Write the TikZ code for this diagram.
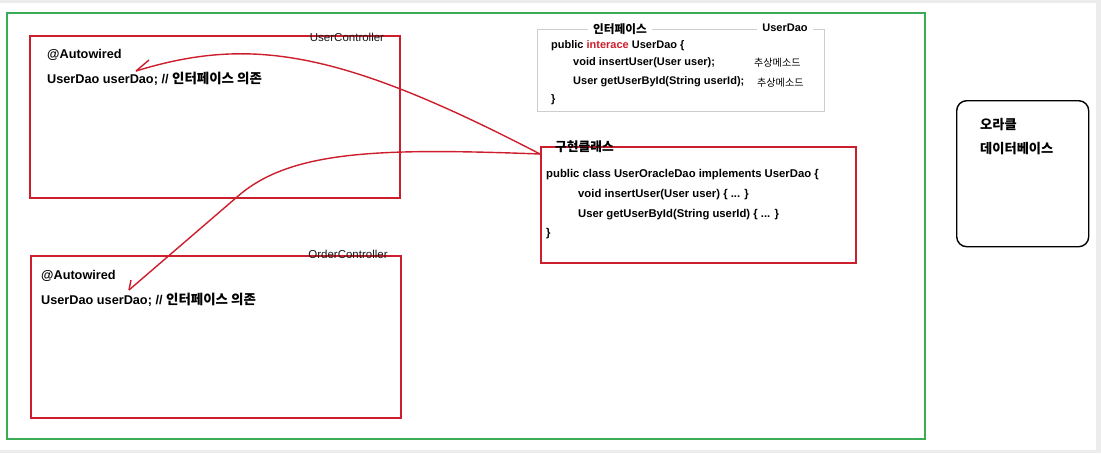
\documentclass[tikz,border=0pt]{standalone}
\usepackage{fontspec}
\setmainfont{Liberation Sans}
\newfontfamily\kofont{Noto Sans CJK KR}[Scale=1.06]
\newcommand{\ko}[1]{{\kofont #1}}
\definecolor{pagegray}{RGB}{236,236,236}
\definecolor{boxred}{RGB}{204,30,44}
\definecolor{framegreen}{RGB}{60,172,84}
\definecolor{ifgray}{RGB}{205,205,205}
\begin{document}
\begin{tikzpicture}[x=1pt,y=-1pt,
  redbox/.style={draw=boxred,line width=1.8pt,inner sep=0pt,anchor=north west},
  code/.style={anchor=west,inner sep=0pt,font=\bfseries\fontsize{12.7}{14}\selectfont},
  smallcode/.style={anchor=west,inner sep=0pt,font=\bfseries\fontsize{11}{13}\selectfont},
  implcode/.style={anchor=west,inner sep=0pt,font=\bfseries\fontsize{11.3}{13}\selectfont},
  tag/.style={inner sep=0pt,font=\fontsize{11.5}{13}\selectfont,text=black!90},
  arrowline/.style={draw=boxred,line width=1.4pt}]
\useasboundingbox (0,0) rectangle (1101,453);
\fill[pagegray] (0,0) rectangle (1101,453);
\fill[white] (0,3) rectangle (1096,450);

% outer green frame
\node[draw=framegreen,line width=1.8pt,inner sep=0pt,anchor=north west,
  minimum width=918pt,minimum height=426pt] (frame) at (6,12) {};

% UserController
\node[redbox,minimum width=370pt,minimum height=162pt] (uc) at (29,35) {};
\node[tag] (uclabel) at (347,37) {UserController};
\node[code] (uc1) at (47,55) {@Autowired};
\node[code] (uc2) at (47,79) {UserDao userDao; // \ko{인터페이스 의존}};

% OrderController
\node[redbox,minimum width=370pt,minimum height=162pt] (oc) at (30,255) {};
\node[tag] (oclabel) at (348,254) {OrderController};
\node[code] (oc1) at (41,276) {@Autowired};
\node[code] (oc2) at (41,300) {UserDao userDao; // \ko{인터페이스 의존}};

% Interface box
\node[draw=ifgray,line width=0.8pt,inner sep=0pt,anchor=north west,
  minimum width=287pt,minimum height=82pt] (iface) at (537,29) {};
\node[fill=white,inner xsep=5pt,inner ysep=1pt,font=\bfseries\fontsize{11}{13}\selectfont] (iftitle) at (620,29) {\ko{인터페이스}};
\node[fill=white,inner xsep=5pt,inner ysep=1pt,font=\bfseries\fontsize{11}{13}\selectfont] (ifname) at (785,28) {UserDao};
\node[smallcode] (if1) at (551,46) {public \textcolor{boxred}{interace} UserDao \{};
\node[smallcode] (if2) at (573,63) {void insertUser(User user);};
\node[smallcode] (if3) at (573,82) {User getUserById(String userId);};
\node[smallcode] (if4) at (551,100) {\}};
\node[anchor=west,inner sep=0pt,font=\fontsize{9.5}{11}\selectfont] (abs1) at (754,63) {\ko{추상메소드}};
\node[anchor=west,inner sep=0pt,font=\fontsize{9.5}{11}\selectfont] (abs2) at (757,83) {\ko{추상메소드}};

% Implementation class box
\node[redbox,minimum width=315pt,minimum height=116pt] (impl) at (540,146) {};
\node[anchor=west,inner sep=0pt,font=\bfseries\fontsize{12}{14}\selectfont] (impltitle) at (555,147) {\ko{구현클래스}};
\node[implcode] (im1) at (546,175) {public class UserOracleDao implements UserDao \{};
\node[implcode] (im2) at (578,195) {void insertUser(User user) \{ ... \}};
\node[implcode] (im3) at (578,215) {User getUserById(String userId) \{ ... \}};
\node[implcode] (im4) at (546,234) {\}};

% Oracle DB
\node[draw=black,line width=1.4pt,rounded corners=10pt,inner sep=0pt,anchor=north west,
  minimum width=132pt,minimum height=146pt] (db) at (956,100) {};
\node[anchor=west,inner sep=0pt,font=\bfseries\fontsize{12.5}{14}\selectfont] (db1) at (980,125) {\ko{오라클}};
\node[anchor=west,inner sep=0pt,font=\bfseries\fontsize{12.5}{14}\selectfont] (db2) at (980,149) {\ko{데이터베이스}};

% connectors
\coordinate (start) at ([yshift=-8pt]impl.north west);
\coordinate (tip1) at (136,71);
\coordinate (barb1) at (149,60);
\coordinate (bend2) at (237,197);
\coordinate (tip2) at (129,290);
\coordinate (barb2) at (131,280);
\draw[arrowline] (start) .. controls (340,50) and (250,36) .. (tip1);
\draw[arrowline] (tip1) -- (barb1);
\draw[arrowline] (start) .. controls (380,148) and (290,150) .. (bend2) -- (tip2);
\draw[arrowline] (tip2) -- (barb2);
\end{tikzpicture}
\end{document}
